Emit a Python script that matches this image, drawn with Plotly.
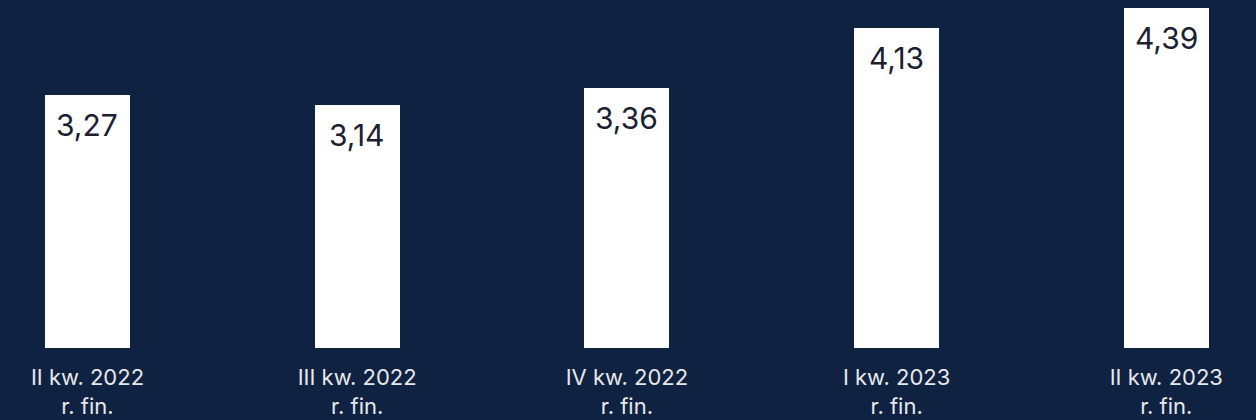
import plotly.graph_objects as go

categories = ["II kw. 2022<br>r. fin.", "III kw. 2022<br>r. fin.", "IV kw. 2022<br>r. fin.",
              "I kw. 2023<br>r. fin.", "II kw. 2023<br>r. fin."]
values = [3.27, 3.14, 3.36, 4.13, 4.39]
value_labels = ["3,27", "3,14", "3,36", "4,13", "4,39"]

BG = "#0f2241"
FONT = "Inter, 'Open Sans', sans-serif"

x = list(range(len(categories)))

fig = go.Figure()
fig.add_trace(go.Bar(
    x=x, y=values, width=0.315,
    marker=dict(color="#ffffff", line=dict(width=0)),
    hoverinfo="skip",
))

for xi, v, lab in zip(x, values, value_labels):
    fig.add_annotation(x=xi, y=v, text=lab, showarrow=False,
                       yanchor="middle", yshift=-30,
                       font=dict(family=FONT, size=30, color="#1c2030"))

fig.update_layout(
    width=1256, height=420,
    paper_bgcolor=BG, plot_bgcolor=BG,
    margin=dict(l=0, r=0, t=0, b=72),
    showlegend=False,
    bargap=0,
    xaxis=dict(range=[-0.3244, 4.3326], tickvals=x, ticktext=categories,
               showgrid=False, zeroline=False, showline=False, ticks="",
               ticklabelstandoff=14,
               tickfont=dict(family=FONT, size=22, color="#e6e8ec")),
    yaxis=dict(range=[0, 4.49], visible=False, showgrid=False, zeroline=False),
)

fig.write_html("out.html", config={"displayModeBar": False},
               post_script="document.body.style.margin='0';document.body.style.background='%s';" % BG)
